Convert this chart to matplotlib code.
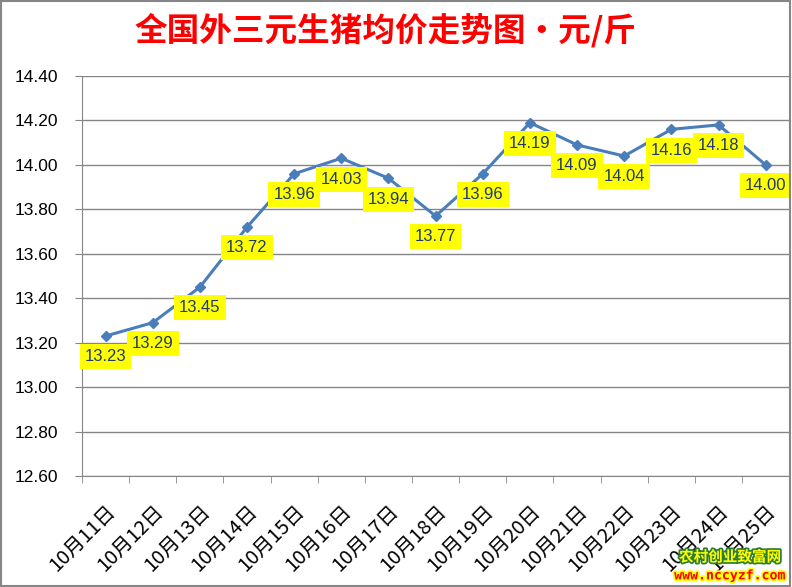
import matplotlib.pyplot as plt
import matplotlib.patheffects as pe
from matplotlib.patches import Rectangle
import numpy as np

dates = ['10月11日', '10月12日', '10月13日', '10月14日', '10月15日', '10月16日', '10月17日',
         '10月18日', '10月19日', '10月20日', '10月21日', '10月22日', '10月23日', '10月24日', '10月25日']
prices = [13.23, 13.29, 13.45, 13.72, 13.96, 14.03, 13.94, 13.77, 13.96, 14.19,
          14.09, 14.04, 14.16, 14.18, 14.00]
yticks = [12.60, 12.80, 13.00, 13.20, 13.40, 13.60, 13.80, 14.00, 14.20, 14.40]

cjk = ['Noto Sans CJK SC', 'DejaVu Sans']
grey = '#868686'

fig = plt.figure(figsize=(7.92, 5.87), dpi=100)
ax = fig.add_axes([0.1035, 0.189, 0.893, 0.6815])

x = np.arange(len(dates))
ax.plot(x, prices, color='#4A7EBB', lw=2.2, marker='D', ms=5, zorder=3)

for xi, v in zip(x, prices):
    ax.annotate(f'{v:.2f}', (xi, v), xytext=(0, -15), textcoords='offset points',
                ha='center', va='center', fontsize=12, color='#1F3A6E',
                family=['Liberation Sans'],
                bbox=dict(boxstyle='square,pad=0.3', fc='#FFFF00', ec='none'), zorder=4)

ax.set_xlim(-0.5, len(dates) - 0.5)
ax.set_ylim(12.6, 14.4)
ax.set_yticks(yticks)
ax.set_yticklabels([f'{t:.2f}' for t in yticks], fontsize=12.5, family=['Liberation Sans'])
ax.yaxis.grid(True, color=grey, lw=1)
ax.set_axisbelow(True)

ax.set_xticks(x)
ax.set_xticklabels(dates, family=cjk, fontsize=14.5, rotation=45, ha='right',
                   rotation_mode='anchor')
ax.set_xticks(np.arange(-0.5, len(dates), 1), minor=True)
ax.tick_params(axis='x', which='major', length=0, pad=18)
ax.tick_params(axis='x', which='minor', length=5, color=grey)
ax.tick_params(axis='y', length=5, color=grey, pad=12)

for s in ['top', 'right']:
    ax.spines[s].set_visible(False)
for s in ['left', 'bottom']:
    ax.spines[s].set_color(grey)

fig.text(0.487, 0.948, '全国外三元生猪均价走势图・元/斤', ha='center', va='center',
         fontsize=23.5, color='#FF0000', fontweight='bold', family=cjk)

fig.text(0.922, 0.052, '农村创业致富网', ha='center', va='center', fontsize=10.5,
         color='#FFFF00', family=cjk, fontweight='bold',
         path_effects=[pe.withStroke(linewidth=2.5, foreground='#2E7D32')])
fig.text(0.922, 0.019, 'www.nccyzf.com', ha='center', va='center', fontsize=9.5,
         color='#FF0000', family=['DejaVu Sans Mono'], fontweight='bold',
         path_effects=[pe.withStroke(linewidth=2.5, foreground='#FFFF00')])

fig.patches.append(Rectangle((0.001, 0.001), 0.997, 0.997, transform=fig.transFigure,
                             fill=False, ec=grey, lw=1.5))

fig.savefig('out.png', dpi=100)
